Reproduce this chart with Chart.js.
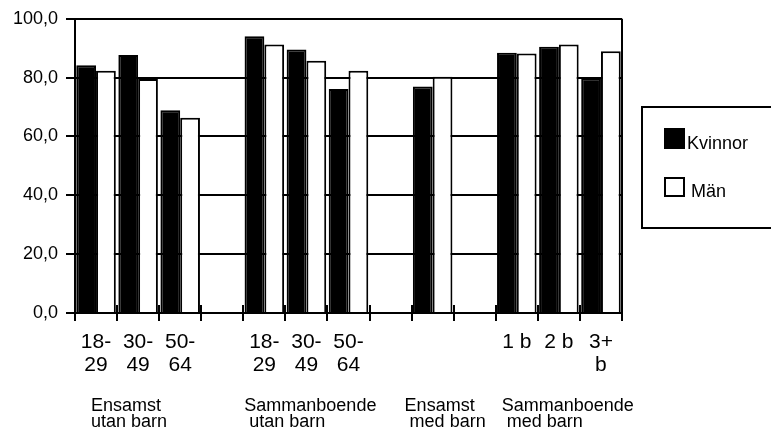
<!DOCTYPE html>
<html>
<head>
<meta charset="utf-8">
<script src="https://cdn.jsdelivr.net/npm/chart.js@4/dist/chart.umd.min.js"></script>
<style>
  html, body { margin: 0; padding: 0; background: #fff; }
  #c { display: block; }
</style>
</head>
<body>
<canvas id="c" width="771" height="434"></canvas>
<script>
// ---- data ----
const categories = [['18-', '29'], ['30-', '49'], ['50-', '64'], '', ['18-', '29'], ['30-', '49'], ['50-', '64'], '', '', '', ['1 b'], ['2 b'], ['3+', 'b']];
const kvinnor = [84.2, 87.7, 68.9, null, 94.1, 89.6, 76.1, null, 77.0, null, 88.5, 90.5, 79.8];
const man     = [82.3, 79.5, 66.4, null, 91.3, 85.7, 82.3, null, 80.3, null, 88.2, 91.3, 89.0];
const seriesNames = ['Kvinnor', 'Män'];
const yTickValues = [0, 20, 40, 60, 80, 100];
const groupLabels = [['Ensamst', 'utan barn'], ['Sammanboende', ' utan barn'], ['Ensamst', ' med barn'], ['Sammanboende', ' med barn']];
const groupStart = [0, 4, 8, 10];

const FONT = '"Liberation Sans", Arial, sans-serif';

const extras = {
  id: 'extras',
  beforeDatasetsDraw(chart) {
    const ctx = chart.ctx, xs = chart.scales.x, a = chart.chartArea;
    const half = (xs.getPixelForValue(1) - xs.getPixelForValue(0)) / 2;
    ctx.save();
    ctx.strokeStyle = '#000';
    ctx.lineWidth = 2;
    for (let i = 0; i <= categories.length; i++) {
      const x = Math.round(xs.getPixelForValue(i) - half);
      ctx.beginPath();
      ctx.moveTo(x, a.bottom - 8);
      ctx.lineTo(x, a.bottom);
      ctx.stroke();
    }
    ctx.restore();
  },
  afterDraw(chart) {
    const ctx = chart.ctx, xs = chart.scales.x, a = chart.chartArea;
    const half = (xs.getPixelForValue(1) - xs.getPixelForValue(0)) / 2;
    ctx.save();
    // right border
    ctx.strokeStyle = '#000';
    ctx.lineWidth = 2;
    ctx.beginPath();
    ctx.moveTo(Math.round(a.right), a.top);
    ctx.lineTo(Math.round(a.right), a.bottom + 8);
    ctx.stroke();

    // group labels
    const dx = [16, 1, -7, 6];
    ctx.fillStyle = '#000';
    ctx.font = '18px ' + FONT;
    ctx.textAlign = 'left';
    ctx.textBaseline = 'alphabetic';
    groupLabels.forEach((lines, g) => {
      const x = xs.getPixelForValue(groupStart[g]) - half + dx[g];
      lines.forEach((t, li) => ctx.fillText(t, x, 411 + li * 16));
    });

    // legend
    ctx.lineWidth = 2;
    ctx.strokeRect(642, 107, 160, 121);
    const ds = chart.data.datasets;
    ctx.fillStyle = ds[0].backgroundColor;
    ctx.fillRect(664, 128, 21, 21);
    ctx.fillStyle = ds[1].backgroundColor;
    ctx.fillRect(665, 178, 19, 18);
    ctx.strokeStyle = '#000';
    ctx.strokeRect(665, 178, 19, 18);
    ctx.fillStyle = '#000';
    ctx.font = '18px ' + FONT;
    ctx.fillText(ds[0].label, 687, 149);
    ctx.fillText(ds[1].label, 691, 197);
    ctx.restore();
  }
};

new Chart(document.getElementById('c'), {
  type: 'bar',
  data: {
    labels: categories,
    datasets: [
      { label: seriesNames[0], data: kvinnor, backgroundColor: '#000', borderColor: '#000', borderWidth: 2 },
      { label: seriesNames[1], data: man, backgroundColor: '#fff', borderColor: '#000', borderWidth: 2 }
    ]
  },
  options: {
    responsive: false,
    animation: false,
    devicePixelRatio: 1,
    layout: { padding: { top: 15, right: 149, left: 0, bottom: 0 } },
    plugins: { legend: { display: false }, tooltip: { enabled: false } },
    datasets: { bar: { categoryPercentage: 0.94, barPercentage: 1.0 } },
    scales: {
      x: {
        offset: true,
        grid: { display: true, drawOnChartArea: false, drawTicks: true, tickLength: 8, color: '#000', lineWidth: 2, offset: true },
        border: { display: true, color: '#000', width: 2 },
        ticks: { color: '#000', font: { family: FONT, size: 21, lineHeight: 1.1 }, padding: 10, maxRotation: 0, autoSkip: false },
        afterFit(s) { s.height = 121; }
      },
      y: {
        min: 0, max: 100,
        afterBuildTicks(s) { s.ticks = yTickValues.map(v => ({ value: v })); },
        grid: { color: '#000', lineWidth: 2, tickLength: 9, drawTicks: true },
        border: { display: true, color: '#000', width: 2 },
        ticks: { color: '#000', font: { family: FONT, size: 18 }, padding: 8,
                 callback: v => v.toFixed(1).replace('.', ',') },
        afterFit(s) { s.width = 75; }
      }
    }
  },
  plugins: [extras]
});
</script>
</body>
</html>
